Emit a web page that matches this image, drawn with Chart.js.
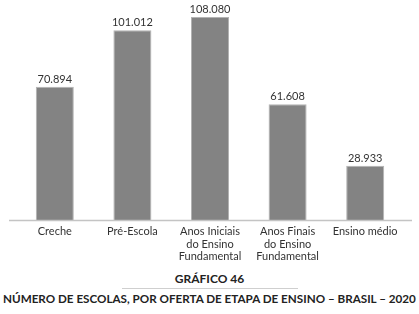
<!DOCTYPE html>
<html>
<head>
<meta charset="utf-8">
<script src="https://cdn.jsdelivr.net/npm/chart.js@4"></script>
<style>
  html, body { margin: 0; padding: 0; background: #fff; }
  #wrap { position: relative; width: 419px; height: 314px; font-family: Lato, "Open Sans", sans-serif; }
  #chart { position: absolute; left: 0; top: 0; }
  .num { position: absolute; left: 0; width: 419px; text-align: center; top: 271px; font-weight: 700; font-size: 12px; color: #222; }
  .sep { position: absolute; left: 122px; width: 176px; top: 288px; height: 1px; background: #cfcfcf; }
  .title { position: absolute; left: 3px; top: 291px; font-weight: 700; font-size: 11.5px; color: #222; white-space: nowrap; }
</style>
</head>
<body>
<div id="wrap">
  <canvas id="chart" width="419" height="262"></canvas>
  <div class="num">GRÁFICO 46</div>
  <div class="sep"></div>
  <div class="title" id="title">NÚMERO DE ESCOLAS, POR OFERTA DE ETAPA DE ENSINO – BRASIL – 2020</div>
</div>
<script>
// ---------- Data ----------
const categories = [
  ["Creche"],
  ["Pré-Escola"],
  ["Anos Iniciais", "do Ensino", "Fundamental"],
  ["Anos Finais", "do Ensino", "Fundamental"],
  ["Ensino médio"]
];
const escolas = [70894, 101012, 108080, 61608, 28933];

function fmt(n) {
  return String(n).replace(/\B(?=(\d{3})+(?!\d))/g, ".");
}

// fit the long title to the same width as the reference (about 413px)
const t = document.getElementById("title");
t.style.fontSize = (11.5 * 413 / t.offsetWidth).toFixed(2) + "px";

// value labels over the bars
const valueLabels = {
  id: "valueLabels",
  afterDatasetsDraw(chart) {
    const ctx = chart.ctx;
    ctx.save();
    ctx.font = "11px Lato, 'Open Sans', sans-serif";
    ctx.fillStyle = "#333";
    ctx.textAlign = "center";
    ctx.textBaseline = "bottom";
    chart.getDatasetMeta(0).data.forEach((bar, i) => {
      ctx.fillText(fmt(escolas[i]), bar.x, bar.y - 2);
    });
    ctx.restore();
  }
};

// long base line under the bars
const baseLine = {
  id: "baseLine",
  afterDatasetsDraw(chart) {
    const ctx = chart.ctx;
    const y = chart.scales.y.getPixelForValue(0);
    ctx.save();
    ctx.strokeStyle = "#c4c4c4";
    ctx.lineWidth = 1.5;
    ctx.beginPath();
    ctx.moveTo(9, y + 0.5);
    ctx.lineTo(412, y + 0.5);
    ctx.stroke();
    ctx.restore();
  }
};

new Chart(document.getElementById("chart"), {
  type: "bar",
  data: {
    labels: categories,
    datasets: [{
      data: escolas,
      backgroundColor: "#838383",
      borderColor: "#b3b3b3",
      borderWidth: 1,
      categoryPercentage: 1,
      barPercentage: 0.49
    }]
  },
  options: {
    responsive: false,
    animation: false,
    layout: { padding: { left: 16, right: 15, top: 4, bottom: 0 } },
    plugins: { legend: { display: false }, tooltip: { enabled: false } },
    scales: {
      x: {
        grid: { display: false, drawTicks: false },
        border: { display: false },
        ticks: {
          color: "#333",
          padding: 5,
          maxRotation: 0,
          autoSkip: false,
          font: { family: "Lato, 'Open Sans', sans-serif", size: 11, lineHeight: 1.16 }
        },
        afterFit: s => { s.height = 42; }
      },
      y: {
        display: false,
        min: 0,
        max: 115000
      }
    }
  },
  plugins: [valueLabels, baseLine]
});
</script>
</body>
</html>
